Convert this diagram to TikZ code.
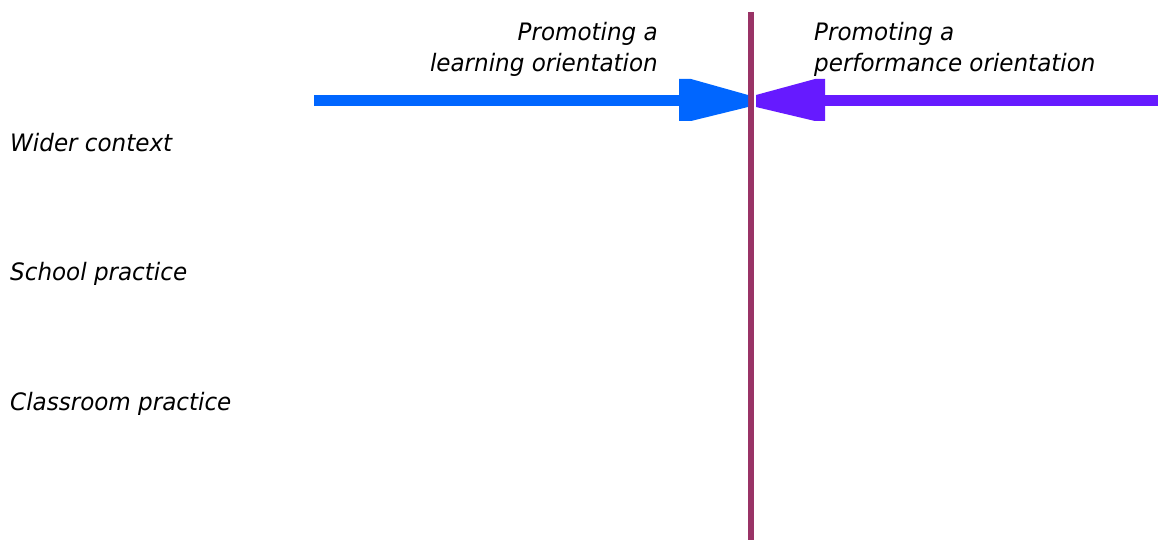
\documentclass[tikz,border=0pt]{standalone}
\usepackage{fontspec}
\setmainfont{DejaVu Sans}[FakeStretch=0.96]
\definecolor{learnblue}{HTML}{0066FF}
\definecolor{perfpurple}{HTML}{661AFF}
\definecolor{divline}{HTML}{993366}
\begin{document}
\begin{tikzpicture}[x=1pt,y=-1pt,
  lbl/.style={font=\fontsize{24}{31}\selectfont\itshape, inner sep=0pt},
  shaft/.style={line width=11pt},
]
\useasboundingbox (0,0) rectangle (1158,540);
% divider
\coordinate (dtop) at (751,12);
\coordinate (dbot) at (751,540);
\draw[divline, line width=6pt] (dtop) -- (dbot);
% blue arrow
\coordinate (bstart) at (314,101);
\coordinate (bhead) at (680,101);
\draw[learnblue, shaft] (bstart) -- (bhead);
\fill[learnblue] (679,79) -- (691,79) -- (748,95) -- (748,107) -- (691,121) -- (679,121) -- cycle;
% purple arrow
\coordinate (pstart) at (1158,101);
\coordinate (phead) at (824,101);
\draw[perfpurple, shaft] (pstart) -- (phead);
\fill[perfpurple] (825,79) -- (815,79) -- (756,95) -- (756,107) -- (815,121) -- (825,121) -- cycle;
% headings
\node[lbl, anchor=north east, align=right] (learn) at (658,22.5) {Promoting a\\learning orientation};
\node[lbl, anchor=north west, align=left] (perf) at (814,22.5) {Promoting a\\performance orientation};
% row labels
\node[lbl, anchor=base west] (wider) at (10,152) {Wider context};
\node[lbl, anchor=base west] (school) at (10,280) {School practice};
\node[lbl, anchor=base west] (class) at (10,410) {Classroom practice};
\end{tikzpicture}
\end{document}
